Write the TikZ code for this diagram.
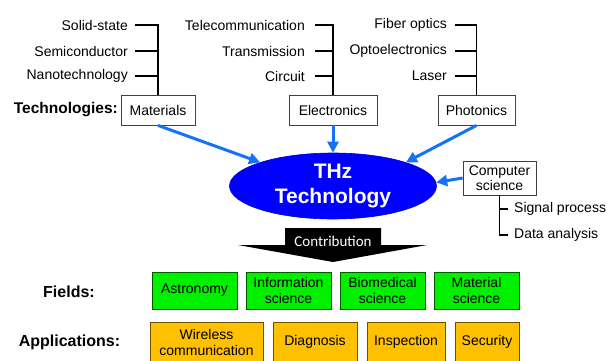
\documentclass[tikz,border=0pt]{standalone}
\usepackage{fontspec}
\setmainfont{Liberation Sans}
\newfontfamily\calib{Carlito}
\usetikzlibrary{arrows.meta,shapes.geometric}
\definecolor{thzblue}{RGB}{0,0,255}
\definecolor{arrblue}{RGB}{22,112,250}
\definecolor{fgreen}{RGB}{0,240,0}
\definecolor{fgreenb}{RGB}{0,90,0}
\definecolor{aorange}{RGB}{255,192,0}
\definecolor{aorangeb}{RGB}{110,80,0}
\tikzset{
  lbl/.style={inner sep=0pt, font=\fontsize{14}{16}\selectfont},
  hdr/.style={inner sep=0pt, font=\fontsize{15.5}{18}\selectfont\bfseries},
  techbox/.style={draw=black!75, line width=0.8pt, fill=white, inner sep=0pt,
     minimum height=30pt, font=\fontsize{14}{16}\selectfont},
  fieldbox/.style={draw=fgreenb, line width=0.8pt, fill=fgreen, inner sep=0pt,
     minimum height=37pt, align=center, font=\fontsize{14}{16}\selectfont},
  appbox/.style={draw=aorangeb, line width=0.8pt, fill=aorange, inner sep=0pt,
     minimum height=40pt, align=center, font=\fontsize{14}{16}\selectfont},
  tree/.style={draw=black, line width=1.8pt},
  flow/.style={draw=arrblue, line width=3pt, -{Triangle[length=11pt,width=11pt]}},
}
\begin{document}
\begin{tikzpicture}[x=1pt,y=-1pt]
\useasboundingbox (0,0) rectangle (614,360);
\fill[white] (0,0) rectangle (614,360);

% technology boxes
\node[techbox, minimum width=74pt] (mat) at (158,110) {Materials};
\node[techbox, minimum width=88pt] (ele) at (333,110) {Electronics};
\node[techbox, minimum width=77pt] (pho) at (476.5,110) {Photonics};
\node[hdr, anchor=east] (tech) at (118,110) {Technologies:};

% materials tree
\node[lbl, anchor=east] (m1) at (128,25) {Solid-state};
\node[lbl, anchor=east] (m2) at (128,51) {Semiconductor};
\node[lbl, anchor=east] (m3) at (128,76) {Nanotechnology};
\draw[tree] ([xshift=7pt]m1.east) -| (mat.north);
\draw[tree] ([xshift=7pt]m2.east) -- (m2.east -| mat.north);
\draw[tree] ([xshift=7pt]m3.east) -- (m3.east -| mat.north);

% electronics tree
\node[lbl, anchor=east] (e1) at (305,25) {Telecommunication};
\node[lbl, anchor=east] (e2) at (305,51) {Transmission};
\node[lbl, anchor=east] (e3) at (305,76) {Circuit};
\draw[tree] ([xshift=10pt]e1.east) -| (ele.north);
\draw[tree] ([xshift=10pt]e2.east) -- (e2.east -| ele.north);
\draw[tree] ([xshift=10pt]e3.east) -- (e3.east -| ele.north);

% photonics tree
\node[lbl, anchor=east] (p1) at (447,25) {Fiber optics};
\node[lbl, anchor=east] (p2) at (447,51) {Optoelectronics};
\node[lbl, anchor=east] (p3) at (447,76) {Laser};
\draw[tree] ([xshift=8pt]p1.east) -| (pho.north);
\draw[tree] ([xshift=8pt]p2.east) -- (p2.east -| pho.north);
\draw[tree] ([xshift=8pt]p3.east) -- (p3.east -| pho.north);

% THz ellipse
\node[ellipse, fill=thzblue, draw=thzblue!80!black, line width=0.6pt, minimum width=207pt, minimum height=66pt,
      inner sep=0pt, text=white, align=center,
      font=\fontsize{21}{25}\selectfont\bfseries] (thz) at (333,186) {THz\\Technology};

% computer science
\node[techbox, minimum width=73pt, minimum height=34pt, align=center,
      font=\fontsize{14}{15}\selectfont] (cs) at (499.5,178) {Computer\\science};
\node[lbl, anchor=west] (sp) at (514,209) {Signal process};
\node[lbl, anchor=west] (da) at (514,235) {Data analysis};
\draw[tree, line width=1.5pt] (cs.south) |- ([xshift=-6pt]da.west);
\draw[tree, line width=1.5pt] ([xshift=-6pt]sp.west) -- (sp.west -| cs.south);

% arrows
\draw[flow] (mat.south) -- (thz.162);
\draw[flow] (ele.south) -- (thz.north);
\draw[flow] (pho.south) -- (thz.18);
\draw[flow] (cs.west) -- (thz.2);

% contribution
\fill[black] (285,228) -- (381,228) -- (381,245) -- (427,245) -- (333,262)
   -- (238,245) -- (285,245) -- cycle;
\node[inner sep=0pt, text=white, font=\calib\fontsize{15}{18}\selectfont] (contrib) at (333,241) {Contribution};

% fields
\node[hdr, font=\fontsize{16}{18}\selectfont\bfseries] (fields) at (69,292) {Fields:};
\node[fieldbox, minimum width=85pt] (f1) at (194.5,290.5) {Astronomy};
\node[fieldbox, minimum width=85pt] (f2) at (288.5,290.5) {Information\\science};
\node[fieldbox, minimum width=85pt] (f3) at (382.5,290.5) {Biomedical\\science};
\node[fieldbox, minimum width=85pt] (f4) at (476.5,290.5) {Material\\science};

% applications
\node[hdr, font=\fontsize{16}{18}\selectfont\bfseries] (apps) at (69.5,342) {Applications:};
\node[appbox, minimum width=113pt] (a1) at (206.5,342) {Wireless\\communication};
\node[appbox, minimum width=84pt] (a2) at (315,342) {Diagnosis};
\node[appbox, minimum width=78pt] (a3) at (406,342) {Inspection};
\node[appbox, minimum width=64pt] (a4) at (487,342) {Security};
\end{tikzpicture}
\end{document}
